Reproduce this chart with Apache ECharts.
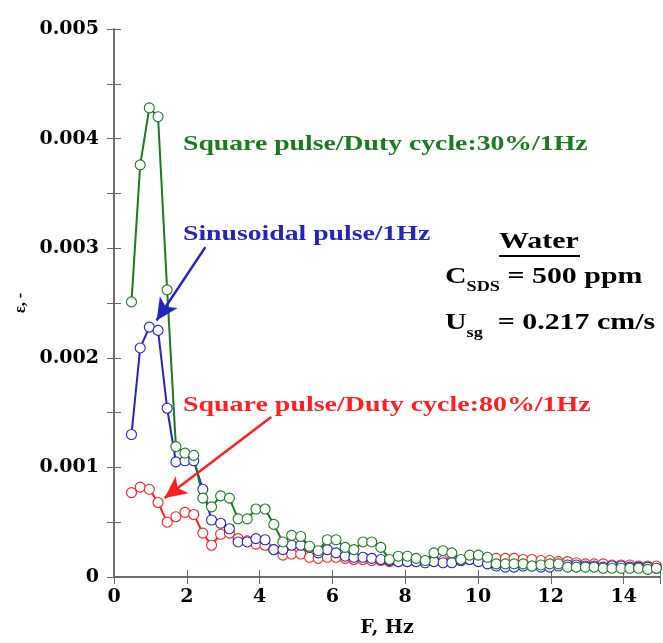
<!DOCTYPE html>
<html>
<head>
<meta charset="utf-8">
<script src="https://cdn.jsdelivr.net/npm/echarts@6/dist/echarts.min.js"></script>
<style>
  html, body { margin: 0; padding: 0; background: #fff; }
  #chart { width: 663px; height: 643px; }
</style>
</head>
<body>
<div id="chart"></div>
<script>
// frequency of each measurement, Hz
var freq = [0.48, 0.72, 0.97, 1.21, 1.46, 1.70, 1.95, 2.19, 2.44, 2.68,
            2.93, 3.17, 3.41, 3.66, 3.90, 4.15, 4.39, 4.64, 4.88, 5.13,
            5.37, 5.61, 5.86, 6.10, 6.35, 6.59, 6.84, 7.08, 7.33, 7.57,
            7.81, 8.06, 8.30, 8.55, 8.79, 9.04, 9.28, 9.53, 9.77, 10.01,
            10.26, 10.50, 10.75, 10.99, 11.24, 11.48, 11.73, 11.97, 12.21, 12.46,
            12.70, 12.95, 13.19, 13.44, 13.68, 13.93, 14.17, 14.41, 14.66, 14.90];

// epsilon values
var square30 = [0.00251, 0.00376, 0.00428, 0.00420, 0.00262, 0.00119, 0.00113, 0.00111, 0.00072, 0.00064,
                0.00074, 0.00072, 0.00053, 0.00053, 0.00062, 0.00062, 0.00048, 0.00032, 0.00038, 0.00037,
                0.00028, 0.00024, 0.00034, 0.00034, 0.00027, 0.00025, 0.00032, 0.00032, 0.00027, 0.00016,
                0.00019, 0.00019, 0.00017, 0.00015, 0.00022, 0.00024, 0.00022, 0.00016, 0.00020, 0.00020,
                0.00018, 0.00012, 0.00012, 0.00012, 0.00012, 0.00010, 0.00011, 0.00012, 0.00012, 0.00009,
                0.00009, 0.00009, 0.00009, 0.00008, 0.00008, 0.00008, 0.00008, 0.00008, 0.00007, 0.00008];
var sinus = [0.00130, 0.00209, 0.00228, 0.00225, 0.00154, 0.00105, 0.00106, 0.00106, 0.00080, 0.00052,
             0.00049, 0.00044, 0.00032, 0.00032, 0.00035, 0.00034, 0.00025, 0.00025, 0.00029, 0.00029,
             0.00027, 0.00022, 0.00025, 0.00022, 0.00019, 0.00018, 0.00018, 0.00017, 0.00016, 0.00015,
             0.00014, 0.00014, 0.00014, 0.00013, 0.00014, 0.00013, 0.00013, 0.00015, 0.00016, 0.00014,
             0.00012, 0.00010, 0.00009, 0.00009, 0.00010, 0.00010, 0.00009, 0.00009, 0.00010, 0.00011,
             0.00011, 0.00010, 0.00010, 0.00009, 0.00010, 0.00010, 0.00009, 0.00009, 0.00009, 0.00008];
var square80 = [0.00077, 0.00082, 0.00080, 0.00068, 0.00050, 0.00055, 0.00059, 0.00057, 0.00040, 0.00029,
                0.00039, 0.00040, 0.00035, 0.00033, 0.00030, 0.00029, 0.00025, 0.00020, 0.00021, 0.00021,
                0.00018, 0.00017, 0.00018, 0.00018, 0.00017, 0.00016, 0.00016, 0.00015, 0.00015, 0.00014,
                0.00014, 0.00014, 0.00014, 0.00014, 0.00015, 0.00015, 0.00015, 0.00015, 0.00016, 0.00017,
                0.00017, 0.00017, 0.00017, 0.00017, 0.00016, 0.00016, 0.00015, 0.00015, 0.00014, 0.00014,
                0.00013, 0.00012, 0.00012, 0.00012, 0.00011, 0.00011, 0.00011, 0.00010, 0.00010, 0.00010];

// arrows: [start, end] in data coords
var sinusArrow = [[2.51, 0.00301], [1.17, 0.00234]];
var square80Arrow = [[4.32, 0.00146], [1.39, 0.00072]];

var GREEN = '#1b7a22', BLUE = '#2424c0', RED = '#ff1f1f';
var FONT = '"Liberation Serif", "Times New Roman", serif';
var NUMFONT = '"DejaVu Serif", serif';

function pairs(ys) {
    return freq.map(function (f, i) { return [f, ys[i]]; });
}

function lineSeries(name, ys, color, arrow) {
    var s = {
        name: name,
        type: 'line',
        data: pairs(ys),
        symbol: 'circle',
        symbolSize: 10,
        showAllSymbol: true,
        lineStyle: { color: color, width: 2 },
        itemStyle: { color: '#fff', borderColor: color, borderWidth: 1.1 },
        animation: false
    };
    if (arrow) {
        s.markLine = {
            silent: true,
            symbol: ['none', 'arrow'],
            symbolSize: [16, 22],
            label: { show: false },
            lineStyle: { color: color, width: 2.5, type: 'solid' },
            data: [[{ coord: arrow[0] }, { coord: arrow[1] }]]
        };
    }
    return s;
}

var axisLine = { lineStyle: { color: '#666', width: 1.5 } };
var axisTick = { inside: true, length: 7, lineStyle: { color: '#666', width: 1 } };
var labelFont = { fontFamily: NUMFONT, fontWeight: 'bold', fontSize: 19, color: '#000' };

// stretched serif text, like the reference annotations
function note(x, y, text, color, size, sx) {
    return { type: 'text', x: x, y: y, scaleX: sx, style: { text: text, fill: color, font: 'bold ' + size + 'px ' + FONT } };
}

var chart = echarts.init(document.getElementById('chart'));
chart.setOption({
    backgroundColor: '#fff',
    animation: false,
    grid: { left: 114, right: 1, top: 29, bottom: 66 },
    xAxis: [{
        type: 'value', min: 0, max: 15, interval: 2,
        name: 'F, Hz', nameLocation: 'middle', nameGap: 42,
        nameTextStyle: labelFont,
        axisLine: axisLine, axisTick: axisTick, splitLine: { show: false },
        axisLabel: Object.assign({
            margin: 11,
            formatter: function (v) { return v % 2 === 0 ? String(v) : ''; }
        }, labelFont)
    }, {
        type: 'value', min: 0, max: 15, interval: 2, position: 'top',
        axisLine: axisLine, axisTick: axisTick, splitLine: { show: false },
        axisLabel: { show: false }
    }],
    yAxis: [{
        type: 'value', min: 0, max: 0.005, interval: 0.0005,
        name: 'ε, -', nameLocation: 'middle', nameGap: 84, nameRotate: 90,
        nameTextStyle: { fontFamily: FONT, fontWeight: 'bold', fontSize: 16, color: '#000' },
        axisLine: axisLine, axisTick: axisTick, splitLine: { show: false },
        axisLabel: Object.assign({
            margin: 15,
            formatter: function (v) {
                var k = Math.round(v * 10000);
                if (k % 10 !== 0) return '';
                return k === 0 ? '0' : (k / 10000).toFixed(3);
            }
        }, labelFont)
    }, {
        type: 'value', min: 0, max: 0.005, interval: 0.0005, position: 'right',
        axisLine: axisLine, axisTick: axisTick, splitLine: { show: false },
        axisLabel: { show: false }
    }],
    series: [
        lineSeries('Square pulse/Duty cycle:80%/1Hz', square80, RED, square80Arrow),
        lineSeries('Sinusoidal pulse/1Hz', sinus, BLUE, sinusArrow),
        lineSeries('Square pulse/Duty cycle:30%/1Hz', square30, GREEN, null)
    ],
    graphic: [
        note(183, 133, 'Square pulse/Duty cycle:30%/1Hz', GREEN, 22, 1.26),
        note(183, 223, 'Sinusoidal pulse/1Hz', BLUE, 22, 1.26),
        note(183, 394, 'Square pulse/Duty cycle:80%/1Hz', RED, 22, 1.27),
        note(499, 231, 'Water', '#000', 23, 1.3),
        { type: 'line', shape: { x1: 499, y1: 256, x2: 580, y2: 256 }, style: { stroke: '#000', lineWidth: 2 } },
        {
            type: 'text', x: 445, y: 260, scaleX: 1.3,
            style: {
                text: '{m|C}{s|SDS}{m| = 500 ppm}',
                rich: {
                    m: { font: 'bold 23px ' + FONT, fill: '#000' },
                    s: { font: 'bold 14px ' + FONT, fill: '#000', padding: [20, 0, 0, 0] }
                }
            }
        },
        {
            type: 'text', x: 445, y: 306, scaleX: 1.3,
            style: {
                text: '{m|U}{s|sg}{m|  = 0.217 cm/s}',
                rich: {
                    m: { font: 'bold 23px ' + FONT, fill: '#000' },
                    s: { font: 'bold 14px ' + FONT, fill: '#000', padding: [20, 0, 0, 0] }
                }
            }
        }
    ]
});
</script>
</body>
</html>
